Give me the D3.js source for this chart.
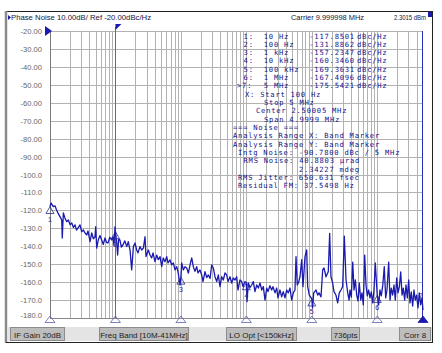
<!DOCTYPE html>
<meta charset="utf-8">
<style>
  body { margin: 0; background: #fff; }
  text { font-family: "Liberation Sans", Arial, sans-serif; }
  .mono { font-family: "DejaVu Sans Mono", monospace; font-size: 7.15px; letter-spacing: 0.77px; fill: #14148a; }
</style>

<div class="chart"></div>

<script src="https://cdn.jsdelivr.net/npm/d3@7/dist/d3.min.js"></script>

<script>
    // phase noise trace (offset Hz, dBc/Hz)
    var traceFreq = [
        10, 10.4, 11.2, 11.9, 12.6, 13.2, 14.2, 15.1, 15.4, 16.0, 16.9, 18.0, 19.1, 20.3, 21.5, 22.8,
        24.1, 25.4, 26.8, 28.7, 30.5, 32.3, 34.3, 36.4, 38.1, 40.9, 43.4, 46.0, 48.7, 49.9, 51.7, 54.7,
        58.0, 61.6, 65.2, 69.2, 72.9, 76.9, 82.0, 87.6, 91.8, 95.0, 98.5, 100, 104, 108, 112, 117,
        123, 130, 139, 149, 157, 167, 177, 188, 199, 211, 221, 237, 252, 267, 283, 293,
        318, 337, 358, 375, 402, 427, 452, 480, 509, 538, 571, 607, 635, 681, 723, 766,
        813, 863, 903, 969, 1000, 1028, 1089, 1156, 1227, 1300, 1378, 1463, 1547, 1640, 1742, 1824,
        1957, 2075, 2176, 2334, 2480, 2622, 2790, 2954, 3126, 3319, 3524, 3727, 3956, 4199, 4444, 4718,
        5008, 5245, 5623, 5970, 6319, 6709, 7122, 7450, 7992, 8487, 8891, 9528, 10000, 10230, 10720, 11400,
        12080, 12770, 13550, 14390, 15240, 16180, 17180, 18160, 19280, 20470, 21430, 22900, 24380, 25530, 27400, 29090,
        30410, 32650, 34650, 36650, 38910, 41300, 43740, 46430, 49270, 52130, 55340, 57370, 59990, 63000, 66030, 70060,
        73340, 78720, 83560, 86500, 91600, 100000, 102600, 106900, 115900, 123000, 128800, 138300, 146600, 153500, 164800, 178600,
        187500, 196300, 208400, 218200, 233900, 248400, 263000, 279000, 296300, 313800, 333400, 354000, 370600, 383700, 401800, 421700,
        441600, 462400, 485300, 508200, 532100, 558500, 584800, 612300, 642700, 673000, 704700, 739600, 774500, 810900, 851100, 891200,
        933200, 1000000, 1050000, 1101000, 1153000, 1211000, 1280000, 1345000, 1408000, 1495000, 1566000, 1640000, 1722000, 1803000, 1888000, 1983000,
        2076000, 2174000, 2282000, 2390000, 2500000, 2625000, 2748000, 2878000, 3020000, 3162000, 3311000, 3475000, 3639000, 3811000, 4000000, 4188000,
        4385000, 4603000, 4820000, 5000000
    ];
    var traceDb = [
        -117.85, -115.9, -117.9, -117.4, -119.8, -121.4, -123.5, -125.4, -135.4, -121.4, -124.2, -126.3, -125.4, -128.0, -127.0, -129.5,
        -128.1, -131.0, -129.8, -128.1, -131.9, -130.9, -132.6, -133.7, -131.5, -137.4, -132.6, -135.8, -134.7, -129.1, -141.0, -136.5,
        -134.0, -136.5, -139.0, -135.4, -137.8, -138.2, -135.0, -136.5, -134.7, -139.5, -129.1, -131.89, -137.0, -144.9, -136.0, -136.5,
        -140.5, -139.3, -137.0, -140.2, -137.4, -142.1, -153.2, -140.2, -138.2, -142.1, -143.7, -140.2, -142.1, -141.0, -134.7, -145.8,
        -142.1, -144.9, -146.5, -143.7, -148.6, -144.9, -147.5, -145.8, -151.4, -146.5, -148.6, -145.8, -149.3, -147.6, -150.4, -149.3,
        -153.2, -151.4, -154.2, -161.6, -157.23, -149.3, -153.2, -151.4, -152.1, -155.0, -150.4, -146.5, -151.4, -154.0, -151.4, -154.9,
        -153.2, -156.0, -159.7, -154.2, -157.5, -156.0, -158.0, -150.4, -152.1, -157.0, -159.7, -156.0, -162.5, -157.0, -158.8, -154.9,
        -156.0, -159.7, -157.0, -160.5, -157.7, -158.8, -157.0, -164.4, -158.8, -159.7, -162.5, -159.7, -160.35, -170.9, -160.5, -163.0,
        -161.6, -159.7, -165.3, -161.6, -163.3, -160.5, -164.4, -162.5, -170.0, -163.3, -165.3, -162.0, -164.4, -162.5, -166.0, -163.3,
        -168.8, -164.4, -168.2, -165.3, -168.8, -164.4, -166.0, -163.3, -170.0, -166.0, -164.4, -145.8, -161.6, -160.0, -157.0, -147.5,
        -162.5, -145.8, -142.1, -162.5, -167.2, -169.36, -174.4, -166.0, -164.4, -167.2, -166.0, -168.2, -153.2, -152.1, -157.0, -154.2,
        -132.8, -157.0, -160.5, -165.3, -167.2, -171.6, -166.0, -164.4, -162.5, -134.3, -158.8, -166.0, -170.0, -164.4, -168.3, -148.8,
        -164.4, -158.8, -167.2, -170.5, -160.5, -170.0, -166.0, -172.7, -144.9, -161.6, -167.7, -164.4, -168.8, -165.5, -171.6, -164.4,
        -149.3, -167.41, -172.7, -164.4, -167.7, -162.1, -151.4, -168.8, -164.4, -148.8, -170.0, -163.3, -167.2, -161.6, -170.0, -157.7,
        -166.0, -162.7, -154.3, -167.2, -163.3, -170.0, -161.6, -168.8, -158.8, -171.6, -165.5, -173.3, -164.4, -170.0, -167.2, -174.4,
        -166.0, -172.7, -168.8, -175.54
    ];

    var markerFreq = [10, 100, 1e3, 1e4, 1e5, 1e6, 5e6];
    var markerDb = [-117.8501, -131.8862, -157.2347, -160.3460, -169.3631, -167.4096, -175.5421];
    var markerFreqText = ["10 Hz", "100 Hz", "1 kHz", "10 kHz", "100 kHz", "1 MHz", "5 MHz"];
    var markerDbText = ["-117.8501", "-131.8862", "-157.2347", "-160.3460", "-169.3631", "-167.4096", "-175.5421"];

    var yTicks = [-20, -30, -40, -50, -60, -70, -80, -90, -100, -110, -120, -130, -140, -150, -160, -170, -180];

    var bandStart = 100, bandStop = 5e6;

    var infoLines = [
        {t: "X: Start 100 Hz", x: 245},
        {t: "Stop 5 MHz", x: 264},
        {t: "Center 2.50005 MHz", x: 256},
        {t: "Span 4.9999 MHz", x: 264},
        {t: "=== Noise ===", x: 233},
        {t: "Analysis Range X: Band Marker", x: 233},
        {t: "Analysis Range Y: Band Marker", x: 233},
        {t: "Intg Noise: -90.7800 dBc / 5 MHz", x: 238},
        {t: "RMS Noise: 40.8803 \u00b5rad", x: 243.5},
        {t: "2.34227 mdeg", x: 299},
        {t: "RMS Jitter: 650.631 fsec", x: 238},
        {t: "Residual FM: 37.5498 Hz", x: 238}
    ];

    var statusText = ["IF Gain 20dB", "Freq Band [10M-41MHz]", "LO Opt [<150kHz]", "736pts", "Corr 8"];
    var statusBox = [[10, 54], [99, 89], [226, 70], [331, 28], [399, 31]];

    var W = 442, H = 353;
    var plot = {left: 50, right: 423, top: 31, bottom: 318};
    var blue = "#1a1aae";

    var svg = d3.select('.chart')
        .append("svg")
        .attr("width", W)
        .attr("height", H);

    svg.append("rect").attr("width", W).attr("height", H).attr("fill", "#fff");

    var x = d3.scaleLog()
        .domain([10, 5e6])
        .range([plot.left, plot.right]);

    var y = d3.scaleLinear()
        .domain([-20, -180])
        .range([plot.top, plot.bottom]);

    // window frame
    svg.append("line").attr("x1", 6).attr("x2", 433).attr("y1", 11.5).attr("y2", 11.5)
        .attr("stroke", "#222").attr("stroke-width", 1);
    svg.append("line").attr("x1", 432.5).attr("x2", 432.5).attr("y1", 11).attr("y2", 343)
        .attr("stroke", "#222").attr("stroke-width", 1);
    svg.append("line").attr("x1", 6).attr("x2", 6).attr("y1", 11).attr("y2", 343)
        .attr("stroke", "#8a8a8a").attr("stroke-width", 2.5);
    svg.append("line").attr("x1", 6).attr("x2", 433).attr("y1", 342.5).attr("y2", 342.5)
        .attr("stroke", "#222").attr("stroke-width", 1);
    svg.append("rect").attr("x", 428).attr("y", 12).attr("width", 4).attr("height", 5).attr("fill", blue);

    // grid
    var grid = svg.append("g").attr("class", "grid");
    grid.selectAll(".vline")
        .data(x.ticks().filter(function(d) { return d > 10 && d < 5e6; }))
        .enter().append("line")
        .attr("x1", function(d) { return Math.round(x(d)) + 0.5; })
        .attr("x2", function(d) { return Math.round(x(d)) + 0.5; })
        .attr("y1", plot.top)
        .attr("y2", plot.bottom)
        .attr("stroke", "#b2b2b2");

    grid.selectAll(".hline")
        .data(yTicks)
        .enter().append("line")
        .attr("x1", plot.left)
        .attr("x2", plot.right)
        .attr("y1", function(d) { return Math.round(y(d)) + 0.5; })
        .attr("y2", function(d) { return Math.round(y(d)) + 0.5; })
        .attr("stroke", "#b2b2b2");

    svg.append("line").attr("x1", plot.left + 0.5).attr("x2", plot.left + 0.5)
        .attr("y1", plot.top).attr("y2", plot.bottom).attr("stroke", "#7a7a7a");
    svg.append("line").attr("x1", plot.left).attr("x2", plot.right)
        .attr("y1", plot.bottom + 0.5).attr("y2", plot.bottom + 0.5).attr("stroke", "#8a8a8a");

    // y labels
    svg.selectAll(".ylab")
        .data(yTicks)
        .enter().append("text")
        .attr("x", 42)
        .attr("y", function(d) { return y(d) + (d === -180 ? 0 : 3); })
        .attr("text-anchor", "end")
        .attr("font-size", "7.6px")
        .attr("fill", "#666")
        .text(function(d) { return Math.abs(d) < 100 ? d.toFixed(2) : d.toFixed(1); });

    // band marker lines
    svg.append("line")
        .attr("x1", Math.round(x(bandStart)) + 0.5).attr("x2", Math.round(x(bandStart)) + 0.5)
        .attr("y1", plot.top - 4).attr("y2", plot.bottom)
        .attr("stroke", "#5e66b0");
    svg.append("path")
        .attr("d", "M" + x(bandStart) + "," + (plot.top - 7) + "l6,0l-6,6z")
        .attr("fill", blue);
    svg.append("line")
        .attr("x1", Math.round(x(bandStop)) - 0.5).attr("x2", Math.round(x(bandStop)) - 0.5)
        .attr("y1", plot.top).attr("y2", plot.bottom)
        .attr("stroke", "#2430b8");

    // reference level arrow
    svg.append("path")
        .attr("d", "M45," + (y(-20) - 5) + "l7,5l-7,5z")
        .attr("fill", blue);

    // header
    svg.append("path").attr("d", "M8,15l3,2.5l-3,2.5z").attr("fill", blue);
    svg.append("text")
        .attr("x", 11).attr("y", 20)
        .attr("font-size", "7.8px")
        .attr("fill", "#15153a")
        .attr("textLength", 140)
        .attr("lengthAdjust", "spacingAndGlyphs")
        .text("Phase Noise 10.00dB/ Ref -20.00dBc/Hz");
    svg.append("text")
        .attr("x", 291).attr("y", 20)
        .attr("font-size", "7.8px")
        .attr("fill", "#15153a")
        .attr("textLength", 73)
        .attr("lengthAdjust", "spacingAndGlyphs")
        .text("Carrier 9.999998 MHz");
    svg.append("text")
        .attr("x", 394).attr("y", 20)
        .attr("font-size", "7.8px")
        .attr("fill", "#15153a")
        .attr("textLength", 32)
        .attr("lengthAdjust", "spacingAndGlyphs")
        .text("2.3015 dBm");

    // trace
    var traceData = traceFreq.map(function(f, i) { return {f: f, v: traceDb[i]}; });
    var line = d3.line()
        .x(function(d) { return x(d.f); })
        .y(function(d) { return y(d.v); });

    svg.append("path")
        .datum(traceData)
        .attr("d", line)
        .attr("fill", "none")
        .attr("stroke", blue)
        .attr("stroke-width", 1.3)
        .attr("stroke-linejoin", "round");

    // markers on trace
    var markers = markerFreq.map(function(f, i) { return {f: f, v: markerDb[i], n: i + 1}; });
    svg.selectAll(".mk")
        .data(markers.slice(0, 6))
        .enter().append("path")
        .attr("d", function(d) { var mx = x(d.f), my = y(d.v); return "M" + mx + "," + my + "l-4,7l8,0z"; })
        .attr("fill", "none")
        .attr("stroke", "#2a2a90")
        .attr("stroke-width", 0.8);
    svg.selectAll(".mkn")
        .data(markers)
        .enter().append("text")
        .attr("x", function(d) { return x(d.f) - (d.n === 7 ? 2 : 0); })
        .attr("y", function(d) { return d.n === 7 ? y(d.v) - 12 : y(d.v) + 15; })
        .attr("text-anchor", "middle")
        .attr("font-size", "7px")
        .attr("fill", "#2a2a90")
        .text(function(d) { return d.n; });

    // marker x indicators below plot
    svg.selectAll(".mkx")
        .data(markers)
        .enter().append("path")
        .attr("d", function(d) { var mx = x(d.f); return "M" + mx + "," + (plot.bottom - 2) + "l-5,6.5l10,0z"; })
        .attr("fill", function(d) { return d.n === 7 ? blue : "none"; })
        .attr("stroke", function(d) { return d.n === 7 ? blue : "#5a62b0"; })
        .attr("stroke-width", 0.8);

    // marker table
    var table = svg.append("g");
    var lineH = 8.33, firstY = 38.5;
    markers.forEach(function(d, i) {
        var ty = firstY + i * lineH;
        table.append("text").attr("class", "mono").attr("x", d.n === 7 ? 237 : 243.6).attr("y", ty)
            .text((d.n === 7 ? ">" : "") + d.n + ":");
        table.append("text").attr("class", "mono").attr("x", 263.8).attr("y", ty).text(markerFreqText[i]);
        table.append("text").attr("class", "mono").attr("x", 309.3).attr("y", ty).text(markerDbText[i]);
        table.append("text").attr("class", "mono").attr("x", 357).attr("y", ty).text("dBc/Hz");
    });
    infoLines.forEach(function(l, i) {
        table.append("text").attr("class", "mono")
            .attr("x", l.x)
            .attr("y", firstY + (i + 7) * lineH)
            .text(l.t);
    });

    // status bar
    svg.append("rect").attr("x", 8).attr("y", 327).attr("width", 424).attr("height", 14).attr("fill", "#e4e4e4");
    statusText.forEach(function(s, i) {
        var b = statusBox[i];
        svg.append("rect").attr("x", b[0] + 0.5).attr("y", 327.5).attr("width", b[1]).attr("height", 13)
            .attr("fill", "#bdbdbd").attr("stroke", "#8c8c8c");
        svg.append("text")
            .attr("x", b[0] + b[1] / 2 + 0.5).attr("y", 337.5)
            .attr("text-anchor", "middle")
            .attr("font-size", "8px")
            .attr("fill", "#222")
            .text(s);
    });
</script>
